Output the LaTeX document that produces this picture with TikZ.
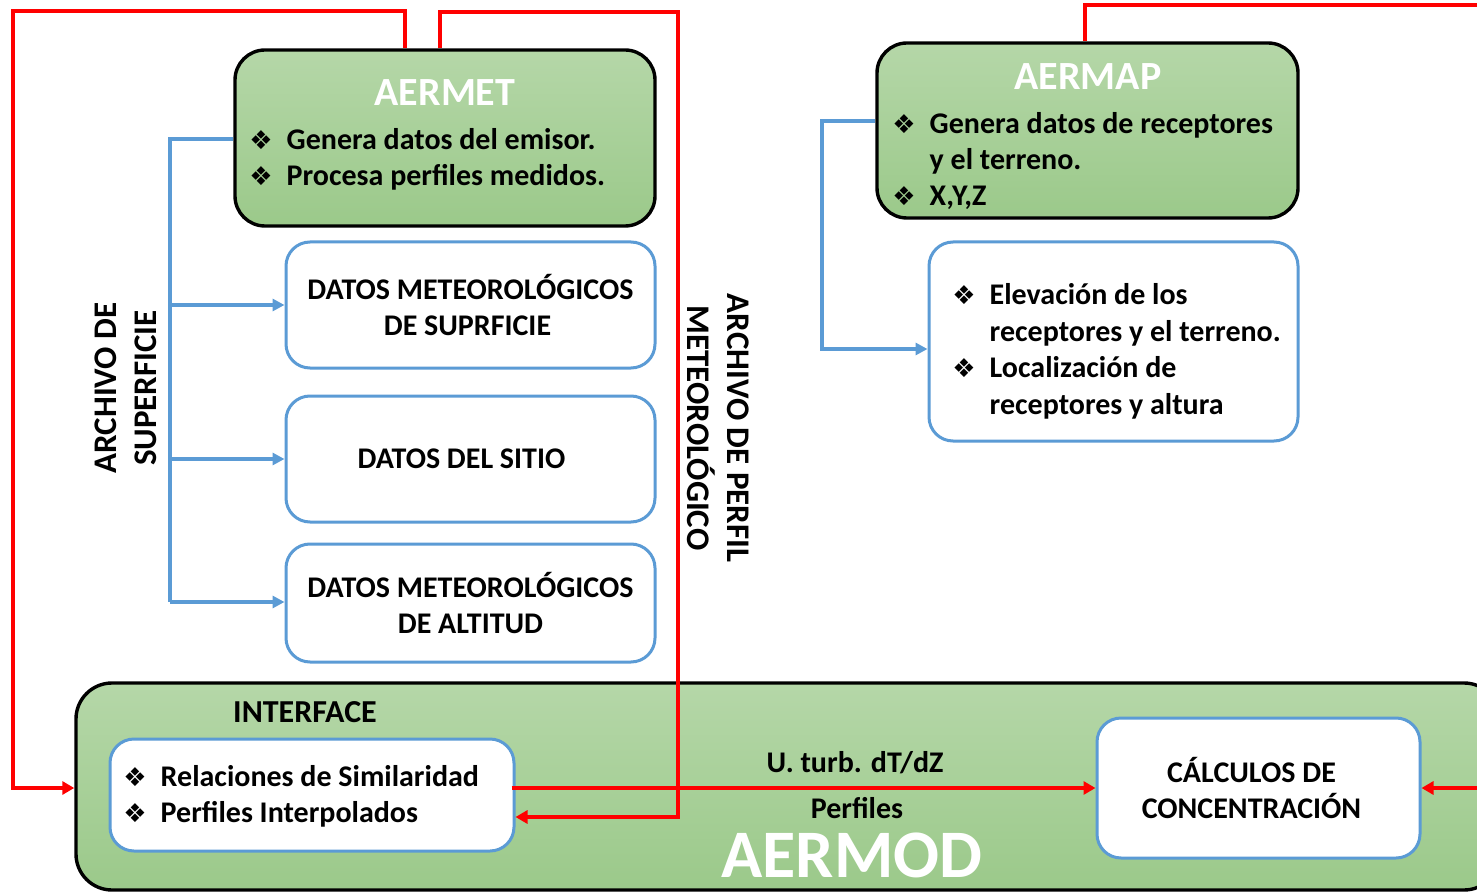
\documentclass[tikz,border=0pt]{standalone}
\usepackage{fontspec}
\setmainfont{Carlito}
\newfontfamily\symf{DejaVu Sans}
\usetikzlibrary{arrows.meta,fit,calc}
\definecolor{gtop}{HTML}{B5D7A8}
\definecolor{gbot}{HTML}{9BC98A}
\definecolor{bl}{HTML}{5B9BD5}
\definecolor{rd}{HTML}{FF0000}
\newcommand{\bul}{{\symf\fontsize{13}{13}\selectfont ❖}}
\begin{document}
\begin{tikzpicture}[x=0.5pt,y=-0.5pt,
 greenbox/.style={draw=black,line width=1.7pt,rounded corners=15pt,top color=gtop,bottom color=gbot,inner sep=0pt},
 bluebox/.style={draw=bl,line width=1.5pt,rounded corners=12pt,fill=white,inner sep=0pt,align=center,font=\bfseries\fontsize{15}{18}\selectfont},
 txt/.style={inner sep=0pt,font=\bfseries\fontsize{15}{18}\selectfont,align=center},
 vtxt/.style={inner sep=0pt,font=\bfseries\fontsize{16.5}{20}\selectfont,align=center},
 title/.style={inner sep=0pt,text=white,font=\bfseries\fontsize{20}{24}\selectfont},
 bigtitle/.style={inner sep=0pt,text=white,font=\bfseries\fontsize{34}{40}\selectfont},
 redline/.style={draw=rd,line width=2pt},
 redarrow/.style={redline,-{Triangle[length=6pt,width=6.5pt]}},
 blueline/.style={draw=bl,line width=1.6pt},
 bluearrow/.style={blueline,-{Triangle[length=6pt,width=6pt]}},
 lst/.style={inner sep=0pt,anchor=west,font=\bfseries\fontsize{15}{18}\selectfont,align=left},
]
\path[use as bounding box,clip] (0,0) rectangle (1477,893);
\fill[white] (0,0) rectangle (1477,893);

% big AERMOD box
\node[greenbox,rounded corners=18pt,fit={(76,683)(1500,890)}] (aermod) {};

% AERMET
\node[greenbox,fit={(235,50)(655,226)}] (aermet) {};
\node[title] (aermetT) at (445,93) {AERMET};
\node[lst] (aermetL) at (249,160) {\begin{tabular}{@{}l@{\hspace{7pt}}l@{}}\bul & Genera datos del emisor.\\ \bul & Procesa perfiles medidos.\end{tabular}};

% AERMAP
\node[greenbox,fit={(877,43)(1298,218)}] (aermap) {};
\node[title] (aermapT) at (1088,77) {AERMAP};
\node[lst] (aermapL) at (892,162.5) {\begin{tabular}{@{}l@{\hspace{7pt}}l@{}}\bul & Genera datos de receptores\\ & y el terreno.\\ \bul & X,Y,Z\end{tabular}};

% blue boxes
\node[bluebox,minimum width=184.5pt,minimum height=63pt] (sup) at (470.5,305) {DATOS METEOROLÓGICOS\\DE SUPRFICIE\hspace*{3pt}};
\node[bluebox,minimum width=184.5pt,minimum height=63pt] (sitio) at (470.5,459) {DATOS DEL SITIO\hspace*{9pt}};
\node[bluebox,minimum width=184.5pt,minimum height=59pt] (alt) at (470.5,603) {DATOS METEOROLÓGICOS\\DE ALTITUD};
\node[bluebox,minimum width=184.5pt,minimum height=99.5pt] (elev) at (1113.5,341.5) {};
\node[lst,font=\bfseries\fontsize{15}{18.3}\selectfont] (elevL) at (952,352) {\begin{tabular}{@{}l@{\hspace{7pt}}l@{}}\bul & Elevación de los\\ & receptores y el terreno.\\ \bul & Localización de\\ & receptores y altura\end{tabular}};

% interface
\node[txt,font=\bfseries\fontsize{16}{19}\selectfont] (ifT) at (305,712) {INTERFACE};
\node[bluebox,minimum width=202pt,minimum height=56pt] (iface) at (312,795) {};
\node[lst] (ifaceL) at (123,797) {\begin{tabular}{@{}l@{\hspace{7pt}}l@{}}\bul & Relaciones de Similaridad\\ \bul & Perfiles Interpolados\end{tabular}};

\node[bluebox,minimum width=161.5pt,minimum height=70pt] (calc) at (1258.5,788) {CÁLCULOS DE\hspace*{7pt}\\CONCENTRACIÓN\hspace*{7pt}};

\node[txt] (turb) at (855,763) {U. turb. dT/dZ};
\node[txt] (perf) at (857,808) {Perfiles};
\node[bigtitle] (aermodT) at (852,855) {AERMOD};

% rotated labels
\node[vtxt,rotate=90] (arch1) at (126,388) {ARCHIVO DE\\SUPERFICIE};
\node[vtxt,rotate=-90] (arch2) at (718,428) {ARCHIVO DE PERFIL\\METEOROLÓGICO};

% coordinates
\coordinate (r1a) at (405,11);
\coordinate (r1b) at (13,11);
\coordinate (r1c) at (13,788);
\coordinate (r2a) at (440,12);
\coordinate (r2b) at (678,12);
\coordinate (r2c) at (678,817);
\coordinate (r4a) at (1085,5);
\coordinate (r4b) at (1480,5);
\coordinate (r4c) at (1480,788);
\coordinate (b1) at (170,139);
\coordinate (b2) at (170,602);
\coordinate (b3) at (822,121);
\coordinate (b4) at (822,349);

% red connectors
\draw[redarrow] (aermet.north -| r1a) -- (r1a) -- (r1b) -- (r1c) -- (r1c -| aermod.west);
\draw[redarrow] (aermet.north -| r2a) -- (r2a) -- (r2b) -- (r2c) -- (r2c -| iface.east);
\draw[redarrow] ([xshift=-2pt]r1c -| iface.east) -- (r1c -| calc.west);
\draw[redline] (aermap.north -| r4a) -- (r4a) -- (r4b);
\draw[redarrow] (r4c) -- (r4c -| calc.east);

% blue connectors
\draw[blueline] (aermet.west |- b1) -- (b1) -- (b2);
\draw[bluearrow] (b1 |- sup.west) -- (sup.west);
\draw[bluearrow] (b1 |- sitio.west) -- (sitio.west);
\draw[bluearrow] (b2) -- (b2 -| alt.west);
\draw[bluearrow] (aermap.west |- b3) -- (b3) -- (b4) -- (b4 -| elev.west);
\end{tikzpicture}
\end{document}
